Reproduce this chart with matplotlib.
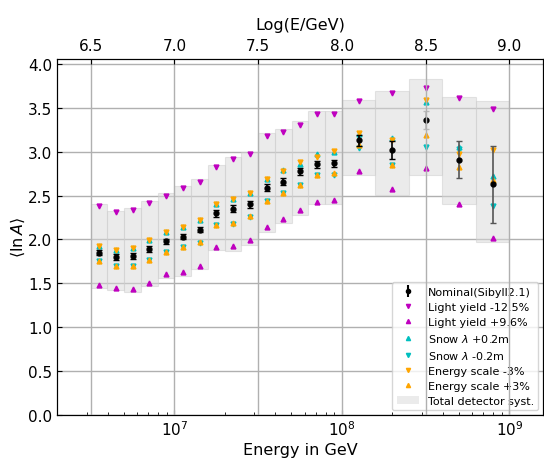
import numpy as np
import matplotlib
matplotlib.use('Agg')
import matplotlib.pyplot as plt
from matplotlib.patches import Patch

# bin centres in log10(E/GeV) and bin edges for the systematic band
log_e = [6.55, 6.65, 6.75, 6.85, 6.95, 7.05, 7.15, 7.25, 7.35, 7.45,
         7.55, 7.65, 7.75, 7.85, 7.95, 8.1, 8.3, 8.5, 8.7, 8.9]
bin_lo = [6.5, 6.6, 6.7, 6.8, 6.9, 7.0, 7.1, 7.2, 7.3, 7.4,
          7.5, 7.6, 7.7, 7.8, 7.9, 8.0, 8.2, 8.4, 8.6, 8.8]
bin_hi = [6.6, 6.7, 6.8, 6.9, 7.0, 7.1, 7.2, 7.3, 7.4, 7.5,
          7.6, 7.7, 7.8, 7.9, 8.0, 8.2, 8.4, 8.6, 8.8, 9.0]

# <lnA> for the nominal reconstruction and its statistical error
nominal = [1.85, 1.80, 1.81, 1.89, 1.98, 2.03, 2.11, 2.30, 2.35, 2.40,
           2.59, 2.66, 2.78, 2.86, 2.87, 3.13, 3.02, 3.36, 2.91, 2.63]
nominal_err = [0.03, 0.03, 0.03, 0.03, 0.03, 0.03, 0.03, 0.04, 0.04, 0.04,
               0.04, 0.04, 0.04, 0.04, 0.04, 0.06, 0.10, 0.10, 0.21, 0.44]
err_color = ['k'] * 17 + ['#b8b8b8', '#555555', '#555555']

# systematic variations
ly_minus = [2.38, 2.31, 2.34, 2.42, 2.50, 2.59, 2.66, 2.83, 2.92, 2.98,
            3.18, 3.23, 3.31, 3.43, 3.43, 3.58, 3.67, 3.73, 3.61, 3.49]
ly_plus = [1.48, 1.45, 1.43, 1.50, 1.60, 1.63, 1.70, 1.91, 1.93, 1.99,
           2.14, 2.23, 2.34, 2.43, 2.45, 2.78, 2.57, 2.82, 2.40, 2.02]
snow_plus = [1.93, 1.88, 1.90, 1.99, 2.08, 2.14, 2.22, 2.40, 2.46, 2.53,
             2.69, 2.79, 2.86, 2.98, 3.00, 3.20, 3.16, 3.57, 3.05, 2.72]
snow_minus = [1.75, 1.70, 1.70, 1.77, 1.86, 1.91, 1.96, 2.17, 2.18, 2.26,
              2.44, 2.53, 2.62, 2.73, 2.73, 3.04, 2.85, 3.06, 3.03, 2.385]
escale_minus = [1.93, 1.88, 1.90, 1.99, 2.09, 2.14, 2.22, 2.40, 2.46, 2.53,
                2.69, 2.78, 2.885, 2.94, 3.005, 3.21, 3.13, 3.59, 2.98, 3.02]
escale_plus = [1.75, 1.70, 1.70, 1.77, 1.86, 1.91, 1.965, 2.17, 2.19, 2.27,
               2.44, 2.53, 2.62, 2.73, 2.76, 3.08, 2.85, 3.19, 2.83, 2.68]

# total detector systematic band (upper / lower edge per bin)
syst_hi = [2.40, 2.33, 2.36, 2.44, 2.53, 2.61, 2.69, 2.85, 2.94, 3.00,
           3.21, 3.26, 3.35, 3.46, 3.46, 3.59, 3.69, 3.83, 3.63, 3.58]
syst_lo = [1.45, 1.42, 1.40, 1.47, 1.56, 1.58, 1.66, 1.875, 1.87, 1.94,
           2.09, 2.19, 2.28, 2.40, 2.40, 2.74, 2.51, 2.73, 2.40, 1.97]

energy = 10 ** np.array(log_e)
e_lo = 10 ** np.array(bin_lo)
e_hi = 10 ** np.array(bin_hi)

fig = plt.figure(figsize=(5.44, 4.64), dpi=100)
ax = fig.add_axes([0.105, 0.104, 0.893, 0.767])
ax.set_xscale('log')

ax.bar(e_lo, np.array(syst_hi) - np.array(syst_lo), width=e_hi - e_lo,
       bottom=syst_lo, align='edge', color='#d8d8d8', alpha=0.5,
       edgecolor='#cccccc', linewidth=0.8, zorder=1)

ms = 3.5
ax.plot(energy, ly_minus, 'v', color='m', ms=ms, ls='none', zorder=3)
ax.plot(energy, ly_plus, '^', color='m', ms=ms, ls='none', zorder=3)
ax.plot(energy, snow_plus, '^', color='c', ms=ms, ls='none', zorder=3)
ax.plot(energy, snow_minus, 'v', color='c', ms=ms, ls='none', zorder=3)
ax.plot(energy, escale_minus, 'v', color='orange', ms=ms, ls='none', zorder=4)
ax.plot(energy, escale_plus, '^', color='orange', ms=ms, ls='none', zorder=4)

for e, v, err, c in zip(energy, nominal, nominal_err, err_color):
    ax.errorbar(e, v, yerr=err, fmt='none', ecolor=c, elinewidth=1.2,
                capsize=2, capthick=1, zorder=5)
ax.plot(energy, nominal, 'o', color='k', ms=3.5, ls='none', zorder=6)

ax.set_xlim(10 ** 6.3, 10 ** 9.2)
ax.set_ylim(0, 4.06)
ax.set_yticks(np.arange(0, 4.01, 0.5))
ax.set_xlabel('Energy in GeV', fontsize=11.5, labelpad=3)
ax.set_ylabel(r'$\langle\ln A\rangle$', fontsize=11.5, labelpad=1)
ax.tick_params(which='both', direction='in', labelsize=11)
ax.grid(True, axis='y', color='#b0b0b0', linewidth=1)
ax.set_axisbelow(True)

# legend handles in the order they are listed
h_nom = ax.errorbar([], [], yerr=[], fmt='o', color='k', ms=3, capsize=2)
handles = [
    h_nom,
    plt.Line2D([], [], marker='v', color='m', ls='none', ms=3),
    plt.Line2D([], [], marker='^', color='m', ls='none', ms=3),
    plt.Line2D([], [], marker='^', color='c', ls='none', ms=3),
    plt.Line2D([], [], marker='v', color='c', ls='none', ms=3),
    plt.Line2D([], [], marker='v', color='orange', ls='none', ms=3),
    plt.Line2D([], [], marker='^', color='orange', ls='none', ms=3),
    Patch(facecolor='#d8d8d8', alpha=0.5),
]
labels = ['Nominal(Sibyll2.1)', 'Light yield -12.5%', 'Light yield +9.6%',
          r'Snow $\lambda$ +0.2m', r'Snow $\lambda$ -0.2m',
          'Energy scale -3%', 'Energy scale +3%', 'Total detector syst.']
ax.legend(handles, labels, loc='lower right', fontsize=8, labelspacing=0.45,
          borderaxespad=0.4)

# top axis in log10(E/GeV)
ax2 = ax.twiny()
ax2.set_xlim(6.3, 9.2)
ax2.set_xticks(np.arange(6.5, 9.01, 0.5))
ax2.set_xlabel('Log(E/GeV)', fontsize=11.5, labelpad=7)
ax2.tick_params(direction='in', labelsize=11, pad=4)
ax2.grid(True, axis='x', color='#b0b0b0', linewidth=1)

fig.savefig('out.png', dpi=100)
